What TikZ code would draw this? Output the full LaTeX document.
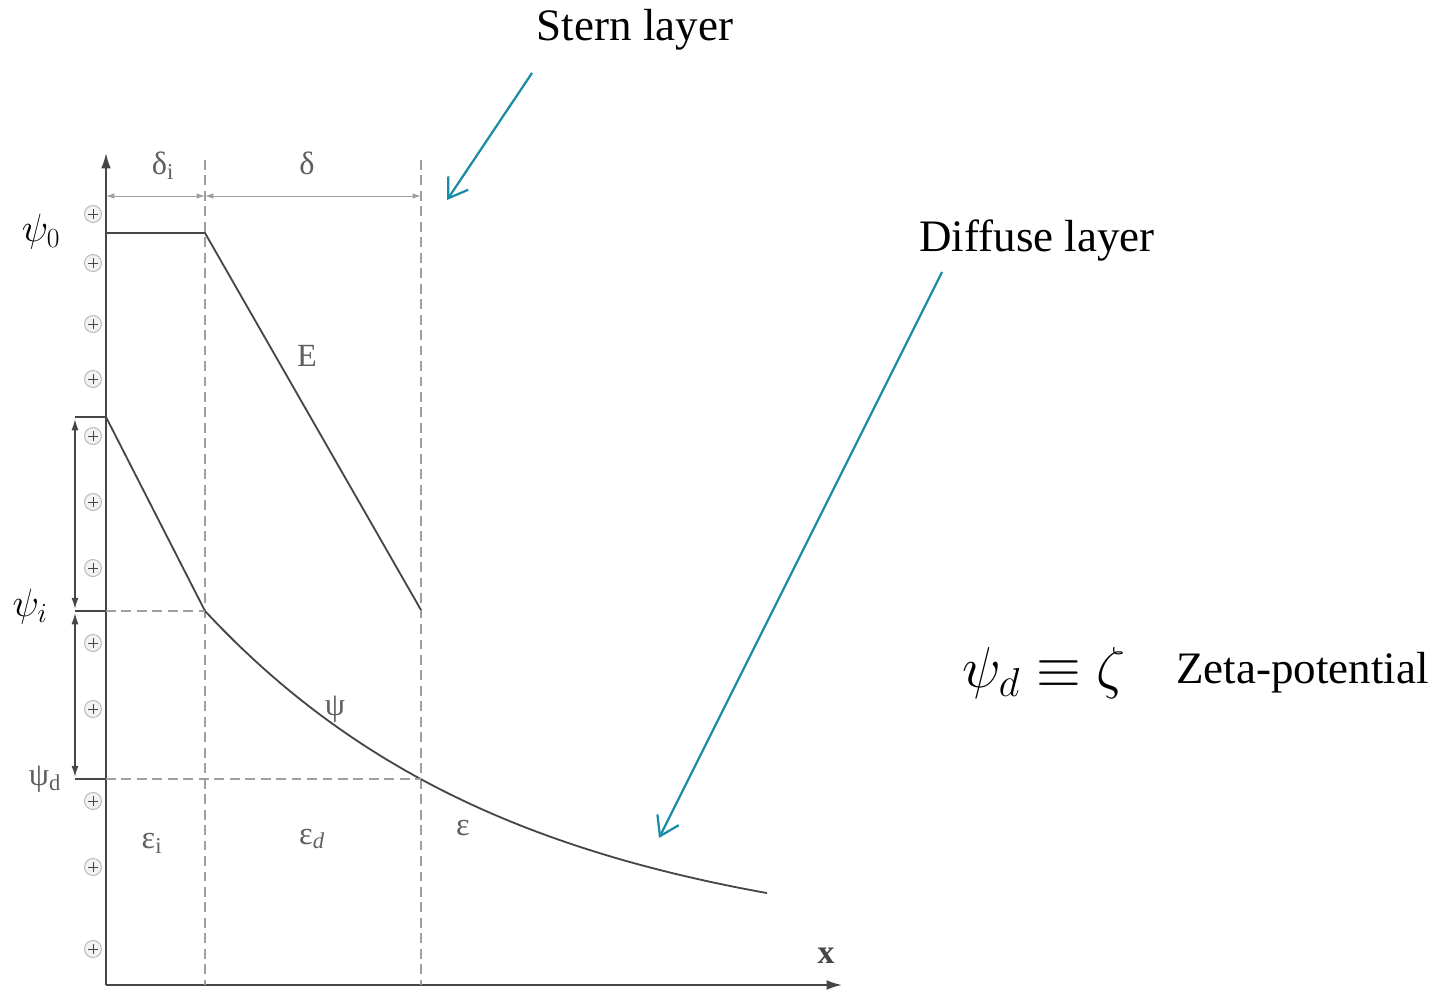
\RequirePackage{fix-cm}
\documentclass[tikz,border=0pt]{standalone}
\usepackage{fontspec}
\setmainfont{Liberation Serif}
\usepackage{amsmath}
\usetikzlibrary{arrows.meta,positioning,calc}
\definecolor{LayerTeal}{RGB}{26,140,168}
\definecolor{PlotGray}{RGB}{70,70,70}
\definecolor{LabelGray}{RGB}{95,95,95}

\begin{document}
\begin{tikzpicture}[x=0.025cm,y=-0.025cm,
  curve/.style={draw=PlotGray,line width=1.3pt},
  guide/.style={draw=gray!75,line width=0.8pt,dash pattern=on 7pt off 4pt},
  dim/.style={draw=gray!75,line width=0.7pt,
    {Latex[length=6pt,width=4pt]}-{Latex[length=6pt,width=4pt]}},
  bracket/.style={draw=PlotGray,line width=1pt,
    {Latex[length=8pt,width=5pt]}-{Latex[length=8pt,width=5pt]}},
  pointer/.style={draw=LayerTeal,line width=1.6pt,-{Straight Barb[length=13pt,width=17pt]}},
  biglabel/.style={font=\fontsize{32}{38}\selectfont,inner sep=0pt},
  plotlabel/.style={font=\fontsize{23}{27}\selectfont,text=LabelGray,inner sep=0pt},
  mathlabel/.style={font=\fontsize{28}{33}\selectfont,inner sep=0pt}]
\useasboundingbox (0,0) rectangle (1434,992);

% axes
\coordinate (origin) at (106,985);
\coordinate (ytip) at (106,153);
\coordinate (xtip) at (842,985);
\draw[curve,-{Latex[length=11pt,width=7pt]}] (origin) -- (ytip);
\draw[curve,-{Latex[length=11pt,width=7pt]}] (origin) -- (xtip);

% layer boundaries
\draw[guide] (205,160) -- (205,985);
\draw[guide] (421,160) -- (421,985);
\draw[dim] (106,196) -- (205,196);
\draw[dim] (205,196) -- (421,196);

% surface charges
\foreach \py in {214,263,324,379,436,502,568,643,709,801,867,949}{
  \draw[gray!55,fill=gray!10,line width=0.7pt] (93,\py) circle[radius=8.5];
  \draw[PlotGray,line width=0.7pt] (88,\py) -- (98,\py) (93,\py-5) -- (93,\py+5);
}

% field and potential
\draw[curve] (106,233) -- (205,233) -- (421,610);
\draw[curve] (75,417) -- (106,417) -- (205,611)
  -- plot[domain=205:767,samples=60] (\x,{950-339*exp(-(\x-205)/315)});
\draw[curve] (75,611) -- (106,611);
\draw[guide] (106,611) -- (205,611);
\draw[curve] (75,779) -- (106,779);
\draw[guide] (106,779) -- (421,779);
\draw[bracket] (75,419) -- (75,609);
\draw[bracket] (75,613) -- (75,777);

% labels of the plot
\node[mathlabel] (psizero) at (41,232) {$\psi_0$};
\node[mathlabel] (psii) at (30,607) {$\psi_i$};
\node[plotlabel] (psid) at (45,779) {ψ\textsubscript{d}};
\node[plotlabel] (deltai) at (163,166) {δ\textsubscript{i}};
\node[plotlabel] (delta) at (307,163) {δ};
\node[plotlabel] (efield) at (307,356) {E};
\node[plotlabel] (psi) at (335,709) {ψ};
\node[plotlabel] (epsi) at (152,843) {ε\textsubscript{i}};
\node[plotlabel] (epsd) at (312,839) {ε\textsubscript{\textit{d}}};
\node[plotlabel] (eps) at (463,828) {ε};
\node[plotlabel,font=\fontsize{24}{28}\selectfont\bfseries,text=PlotGray] (xlab) at (826,956) {x};

% layer names
\node[biglabel] (stern) at (635,30) {Stern layer};
\node[biglabel] (diffuse) at (1037,241) {Diffuse layer};
\coordinate (sternfrom) at (532,73);
\coordinate (sternto) at (447,200);
\coordinate (diffusefrom) at (942,272);
\coordinate (diffuseto) at (659,838);
\draw[pointer] (sternfrom) -- (sternto);
\draw[pointer] (diffusefrom) -- (diffuseto);

\node[font=\fontsize{41}{48}\selectfont,inner sep=0pt] (zeta) at (1044,673) {$\psi_d\equiv\zeta$};
\node[biglabel,right=1.25cm of zeta] (zetatext) {Zeta-potential};
\end{tikzpicture}
\end{document}
